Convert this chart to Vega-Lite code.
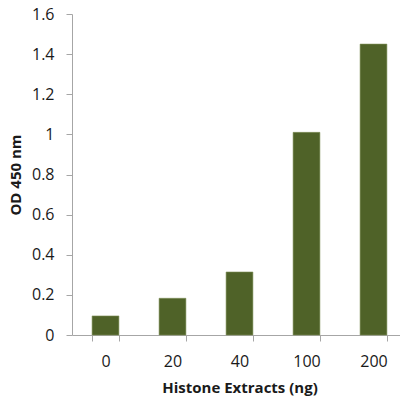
{
  "$schema": "https://vega.github.io/schema/vega-lite/v6.json",
  "description": "OD 450 nm by histone extract amount",
  "autosize": "none",
  "padding": {"left": 72, "top": 14, "right": 0, "bottom": 71},
  "width": 328,
  "height": 321,
  "config": {
    "view": {"stroke": null},
    "font": "Open Sans",
    "axis": {
      "grid": false,
      "domainColor": "#a6a6a6",
      "tickColor": "#a6a6a6",
      "tickSize": 6,
      "labelFont": "Open Sans",
      "labelFontSize": 16,
      "labelColor": "#1a1a1a",
      "titleFont": "Open Sans",
      "titleFontSize": 15,
      "titleFontWeight": "bold",
      "titleColor": "#1a1a1a"
    }
  },
  "data": {
    "values": [
      {"amount": "0", "od": 0.095},
      {"amount": "20", "od": 0.183},
      {"amount": "40", "od": 0.314},
      {"amount": "100", "od": 1.01},
      {"amount": "200", "od": 1.45}
    ]
  },
  "mark": {"type": "bar", "color": "#4f6228", "stroke": "#7d8f55", "strokeWidth": 0.6},
  "encoding": {
    "x": {
      "field": "amount",
      "type": "ordinal",
      "sort": null,
      "title": "Histone Extracts (ng)",
      "scale": {"range": [0, 335], "paddingInner": 0.6, "paddingOuter": 0.3},
      "axis": {"labelAngle": 0, "tickBand": "extent", "labelPadding": 12, "titlePadding": 11}
    },
    "y": {
      "field": "od",
      "type": "quantitative",
      "title": "OD 450 nm",
      "scale": {"domain": [0, 1.6], "nice": false},
      "axis": {"values": [0, 0.2, 0.4, 0.6, 0.8, 1, 1.2, 1.4, 1.6], "format": ".1~f", "labelPadding": 12, "titlePadding": 8}
    }
  }
}
